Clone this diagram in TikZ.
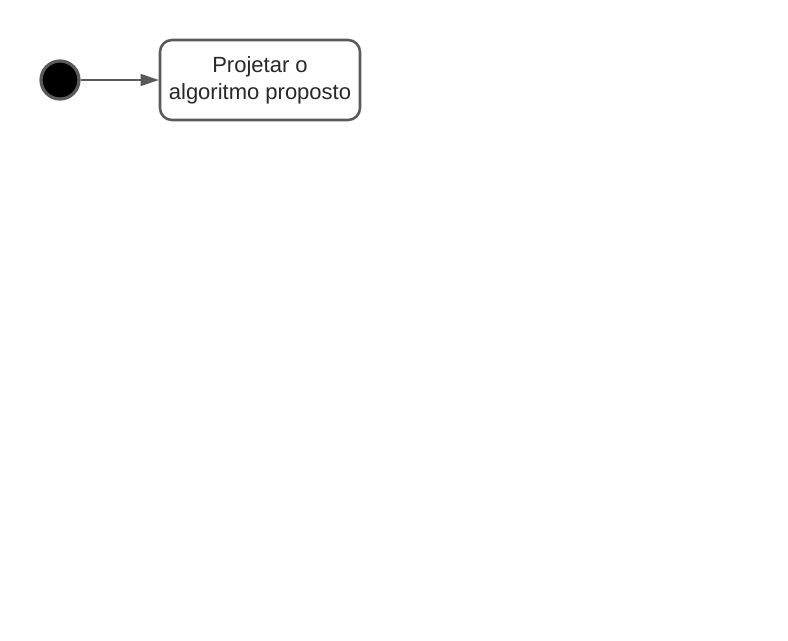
\documentclass[tikz,border=0pt]{standalone}
\usepackage{fontspec}
\setmainfont{Liberation Sans}
\usepackage{xcolor}
\usepackage{tikz}
\usetikzlibrary{arrows.meta, positioning}
\definecolor{figE}{RGB}{90,90,90}
\definecolor{figT}{RGB}{40,40,40}
\tikzset{startdot/.style={circle, fill=black, draw=figE, line width=2.4pt, minimum size=28.5pt, inner sep=0pt},
  actbox/.style={rectangle, rounded corners=9pt, draw=figE, line width=1.9pt, fill=white,
    minimum width=150pt, minimum height=60pt, align=center, text=figT,
    font=\fontsize{16.5}{20.25}\selectfont},
  flow/.style={-{Triangle[length=13.5pt, width=9pt]}, figE, line width=0.9pt}}

\begin{document}
\begin{tikzpicture}[x=0.75pt, y=-0.75pt]
\useasboundingbox (0,0) rectangle (788,640);
% initial state and first activity
\node[startdot] (start) at (60,80) {};
\node[actbox] (proj) at (260,80) {Projetar o\\algoritmo proposto};
\draw[flow] (start) -- (proj);
\end{tikzpicture}
\end{document}
